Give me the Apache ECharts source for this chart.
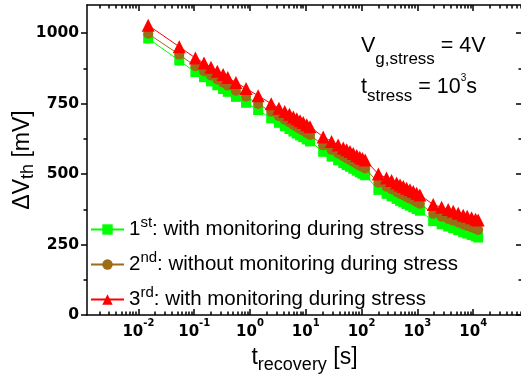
<!DOCTYPE html>
<html><head><meta charset="utf-8">
<script src="https://cdn.jsdelivr.net/npm/echarts@6/dist/echarts.min.js"></script>
<style>html,body{margin:0;padding:0;background:#fff}#c{width:521px;height:375px}</style>
</head><body><div id="c"></div>
<script>
// recovery time [s]
const tRecovery = [0.015, 0.054,
  0.105, 0.15, 0.2, 0.26, 0.33, 0.4, 0.56, 0.85,
  1.4, 2.4, 3.3, 4.2, 5.1, 6, 6.9, 7.9, 9, 10.4, 11.9,
  20.5, 29, 38, 47, 54, 62, 71, 82, 93, 104, 116,
  200, 280, 345, 425, 490, 560, 640, 735, 845, 970, 1110,
  1920, 2720, 3570, 4390, 5390, 6630, 7810, 9370, 11050, 12300];
// Delta Vth [mV]
const dv1st = [981, 903,
  862, 844, 829, 815, 802, 792, 774, 753,
  727, 698, 682, 670, 660, 651, 644, 637, 631, 623, 616,
  579, 562, 549, 539, 532, 526, 519, 512, 506, 501, 496,
  444, 430, 421, 412, 405, 400, 394, 388, 382, 376, 370,
  333, 322, 314, 308, 301, 294, 289, 284, 279, 275];
const dv2nd = [998, 924,
  883, 865, 850, 836, 824, 814, 796, 775,
  749, 721, 705, 693, 683, 674, 667, 660, 654, 646, 639,
  602, 586, 573, 563, 556, 550, 543, 536, 530, 525, 520,
  469, 455, 446, 437, 430, 425, 419, 413, 407, 401, 395,
  359, 349, 341, 335, 328, 321, 316, 311, 306, 302];
const dv3rd = [1028, 952,
  912, 894, 879, 865, 853, 843, 825, 804,
  778, 750, 734, 722, 712, 703, 696, 689, 683, 675, 668,
  632, 616, 603, 593, 586, 580, 573, 566, 560, 555, 550,
  500, 486, 477, 468, 461, 456, 450, 444, 438, 432, 426,
  392, 382, 374, 368, 361, 354, 350, 345, 340, 337];

const seriesNames = ['1st: with monitoring during stress', '2nd: without monitoring during stress', '3rd: with monitoring during stress'];
const legendParts = [['1', 'st', ': with monitoring during stress'], ['2', 'nd', ': without monitoring during stress'], ['3', 'rd', ': with monitoring during stress']];
const seriesColors = ['#00ff00', '#9c6c16', '#ff0000'];
const seriesSymbols = ['rect', 'circle', 'triangle'];

const X_MIN = 0.0012, X_MAX = 75000;
const xMajorTicks = [0.01, 0.1, 1, 10, 100, 1000, 10000];
const xMajorExp = ['-2', '-1', '0', '1', '2', '3', '4'];
const xMinorTicks = [];
for (let e = -3; e <= 4; e++) for (let k = 2; k <= 9; k++) {
  const v = +(k * Math.pow(10, e)).toPrecision(3);
  if (v > X_MIN && v < X_MAX) xMinorTicks.push(v);
}
const yMajorTicks = [0, 250, 500, 750, 1000];
const yMinorTicks = [125, 375, 625, 875];

const AX = {color: '#000', width: 1.5};
const chart = echarts.init(document.getElementById('c'));

function xAx(pos, major, extra) {
  return Object.assign({
    type: 'log', logBase: 10, min: X_MIN, max: X_MAX, gridIndex: 0, position: pos, offset: 0,
    axisLine: {show: major, onZero: false, lineStyle: AX},
    axisTick: {show: true, inside: true, length: major ? 6 : 3.5, lineStyle: AX,
      customValues: major ? xMajorTicks : xMinorTicks},
    axisLabel: {show: false},
    splitLine: {show: false}, minorTick: {show: false}
  }, extra || {});
}
function yAx(pos, major, extra) {
  return Object.assign({
    type: 'value', min: 0, max: 1100, gridIndex: 0, position: pos, offset: 0,
    axisLine: {show: major, onZero: false, lineStyle: AX},
    axisTick: {show: true, inside: pos === 'right', length: major ? 6 : 3.5, lineStyle: AX,
      customValues: major ? yMajorTicks : yMinorTicks},
    axisLabel: {show: false},
    splitLine: {show: false}
  }, extra || {});
}

const option = {
  animation: false,
  backgroundColor: '#fff',
  grid: {left: 87, top: 5, width: 435, height: 310, containLabel: false, outerBoundsMode: 'none'},
  xAxis: [
    xAx('bottom', true, {
      axisLabel: {show: true, customValues: xMajorTicks, margin: 8,
        formatter: v => '{b|10}{s|' + xMajorExp[xMajorTicks.findIndex(t => Math.abs(t - v) / t < 1e-6)] + '}',
        rich: {
          b: {fontFamily: 'DejaVu Sans', fontWeight: 'bold', fontSize: 15, lineHeight: 18, color: '#000'},
          s: {fontFamily: 'DejaVu Sans', fontWeight: 'bold', fontSize: 10, lineHeight: 10, padding: [0, 0, 18, 0], color: '#000'}
        }},
      name: '{m|t}{sub|recovery}{m| [s]}', nameLocation: 'middle', nameGap: 30, nameMoveOverlap: false,
      nameTextStyle: {rich: {
        m: {fontFamily: 'Liberation Sans', fontSize: 23, lineHeight: 26, color: '#000'},
        sub: {fontFamily: 'Liberation Sans', fontSize: 18, lineHeight: 20, padding: [14, 0, 0, 0], color: '#000'}
      }}
    }),
    xAx('bottom', false),
    xAx('top', true),
    xAx('top', false)
  ],
  yAxis: [
    yAx('left', true, {
      axisLabel: {show: true, customValues: yMajorTicks, margin: 8, color: '#000',
        formatter: v => String(v),
        fontFamily: 'DejaVu Sans', fontWeight: 'bold', fontSize: 15.5},
      name: '{m|ΔV}{sub|th}{m| [mV]}', nameLocation: 'middle', nameGap: 51, nameMoveOverlap: false,
      nameTextStyle: {rich: {
        m: {fontFamily: 'Liberation Sans', fontSize: 23, lineHeight: 26, color: '#000'},
        sub: {fontFamily: 'Liberation Sans', fontSize: 18, lineHeight: 20, padding: [10, 0, 0, 0], color: '#000'}
      }}
    }),
    yAx('left', false),
    yAx('right', true),
    yAx('right', false)
  ],
  legend: {
    orient: 'vertical', left: 90, top: 215, padding: 0, itemWidth: 33, itemHeight: 13, itemGap: 6,
    data: seriesNames,
    formatter: name => {
      const p = legendParts[seriesNames.indexOf(name)];
      return '{m|' + p[0] + '}{sup|' + p[1] + '}{m|' + p[2] + '}';
    },
    textStyle: {fontFamily: 'Liberation Sans', fontSize: 20.5, color: '#000', rich: {
      m: {fontFamily: 'Liberation Sans', fontSize: 20.5, lineHeight: 24, color: '#000'},
      sup: {fontFamily: 'Liberation Sans', fontSize: 15, lineHeight: 10, padding: [0, 0, 14, 0], color: '#000'}
    }}
  },
  graphic: [
    {type: 'text', x: 361, y: 46, style: {
      text: '{m|V}{sub|g,stress}{m| = 4V}', verticalAlign: 'middle', align: 'left',
      rich: {
        m: {fontFamily: 'Liberation Sans', fontSize: 21.5, lineHeight: 24, fill: '#000'},
        sub: {fontFamily: 'Liberation Sans', fontSize: 17, lineHeight: 20, padding: [26, 0, 0, 0], fill: '#000'}
      }}},
    {type: 'text', x: 361, y: 87, style: {
      text: '{m|t}{sub|stress}{m| = 10}{sup|3}{m|s}', verticalAlign: 'middle', align: 'left',
      rich: {
        m: {fontFamily: 'Liberation Sans', fontSize: 21.5, lineHeight: 24, fill: '#000'},
        sub: {fontFamily: 'Liberation Sans', fontSize: 17, lineHeight: 20, padding: [19, 0, 0, 0], fill: '#000'},
        sup: {fontFamily: 'Liberation Sans', fontSize: 10, lineHeight: 12, padding: [0, 0, 17, 0], fill: '#000'}
      }}}
  ],
  series: [dv1st, dv2nd, dv3rd].map((vals, i) => ({
    name: seriesNames[i], type: 'line', xAxisIndex: 0, yAxisIndex: 0,
    data: tRecovery.map((t, j) => [t, vals[j]]),
    symbol: seriesSymbols[i], symbolSize: [10, 10, 13][i], showSymbol: true, showAllSymbol: true,
    itemStyle: {color: seriesColors[i], borderWidth: 0},
    lineStyle: {color: seriesColors[i], width: 1},
    z: 2 + i
  }))
};
chart.setOption(option);
</script></body></html>
